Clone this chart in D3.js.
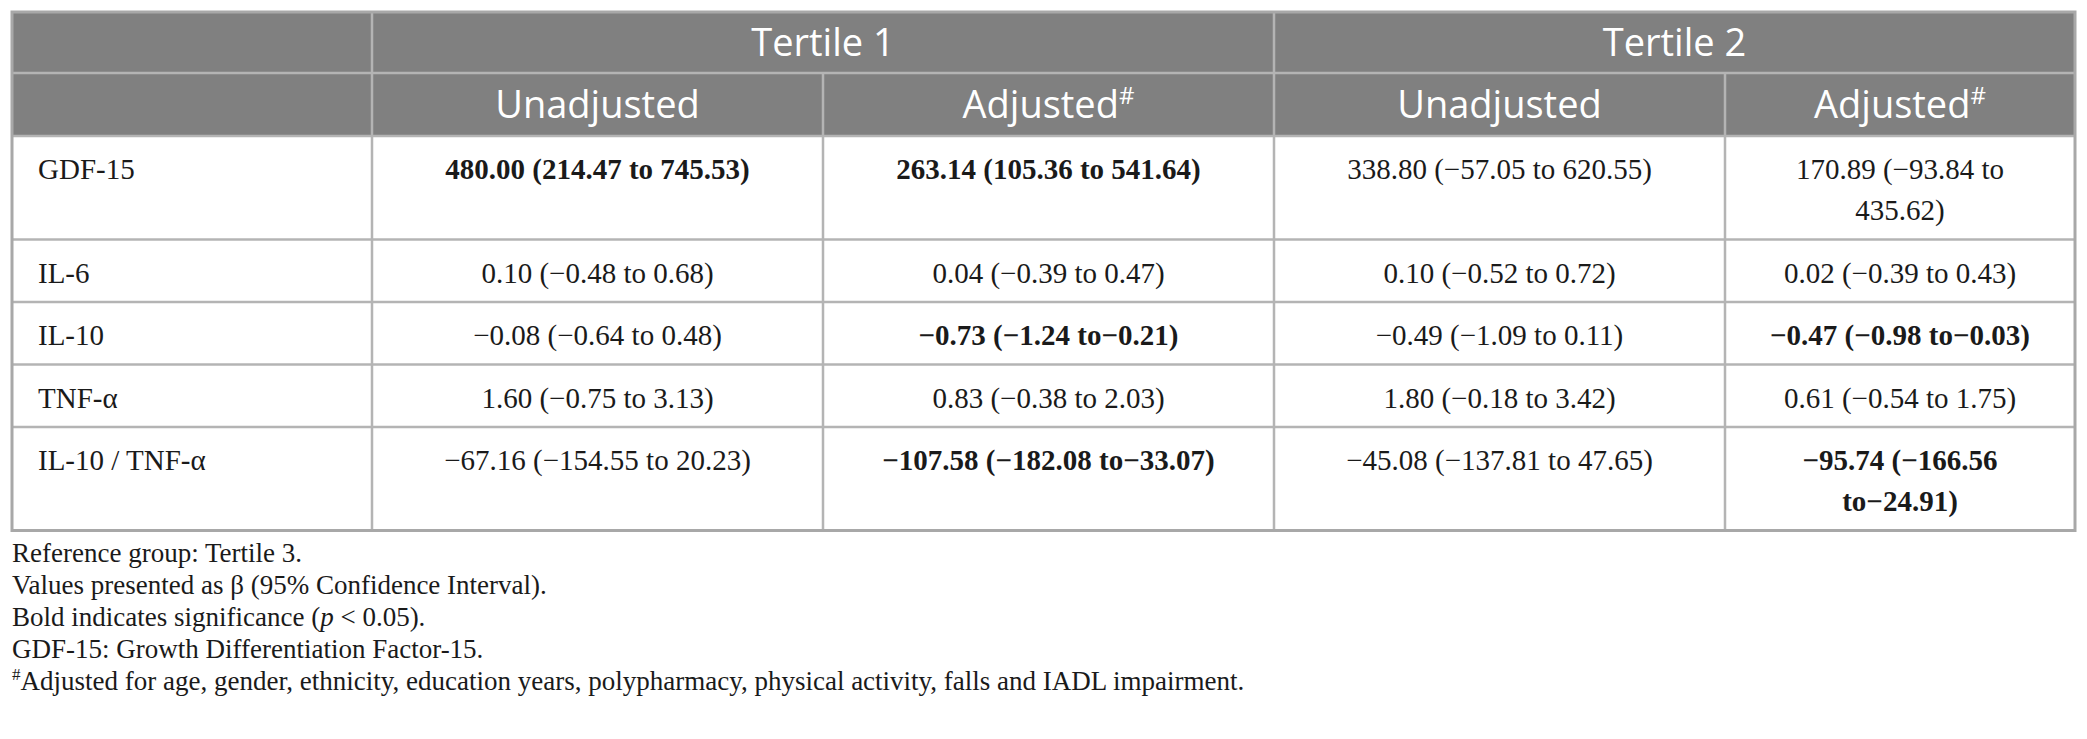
<!DOCTYPE html>
<html>
<head>
<meta charset="utf-8">
<script src="https://cdn.jsdelivr.net/npm/d3@7"></script>
<style>
  body { margin: 0; background: #fff; }
</style>
</head>
<body>
<div id="table"></div>
<script>
// table content
var rowLabels = ["GDF-15", "IL-6", "IL-10", "TNF-α", "IL-10 / TNF-α"];
var tertiles = ["Tertile 1", "Tertile 2"];
var models = ["Unadjusted", "Adjusted"];

var t1Unadjusted = ["480.00 (214.47 to 745.53)", "0.10 (−0.48 to 0.68)", "−0.08 (−0.64 to 0.48)", "1.60 (−0.75 to 3.13)", "−67.16 (−154.55 to 20.23)"];
var t1Adjusted = ["263.14 (105.36 to 541.64)", "0.04 (−0.39 to 0.47)", "−0.73 (−1.24 to−0.21)", "0.83 (−0.38 to 2.03)", "−107.58 (−182.08 to−33.07)"];
var t2Unadjusted = ["338.80 (−57.05 to 620.55)", "0.10 (−0.52 to 0.72)", "−0.49 (−1.09 to 0.11)", "1.80 (−0.18 to 3.42)", "−45.08 (−137.81 to 47.65)"];
var t2Adjusted = ["170.89 (−93.84 to 435.62)", "0.02 (−0.39 to 0.43)", "−0.47 (−0.98 to−0.03)", "0.61 (−0.54 to 1.75)", "−95.74 (−166.56 to−24.91)"];

// significant (bold) cells
var t1UnadjustedBold = [true, false, false, false, false];
var t1AdjustedBold = [true, false, true, false, true];
var t2UnadjustedBold = [false, false, false, false, false];
var t2AdjustedBold = [false, false, true, false, true];

var footnotes = [
  "Reference group: Tertile 3.",
  "Values presented as β (95% Confidence Interval).",
  "Bold indicates significance (|p| < 0.05).",
  "GDF-15: Growth Differentiation Factor-15.",
  "#Adjusted for age, gender, ethnicity, education years, polypharmacy, physical activity, falls and IADL impairment."
];

var svgWidth = 2087;
var svgHeight = 739;
var tableLeft = 12, tableTop = 12;
var colWidths = [360, 451, 451, 451, 350];
var headRowHeights = [61, 63];
var labelPad = 26;
var wrapPad = 35;
var lineH = 41;
var bodyFont = "'Liberation Serif', 'Times New Roman', serif";
var headFont = "'Open Sans', 'Noto Sans', sans-serif";
var bodySize = 29;
var gridColor = "#b4b4b4";
var headBg = "#808080";
var textColor = "#1a1a1a";

var columns = [
  { key: "t1u", values: t1Unadjusted, bold: t1UnadjustedBold },
  { key: "t1a", values: t1Adjusted, bold: t1AdjustedBold },
  { key: "t2u", values: t2Unadjusted, bold: t2UnadjustedBold },
  { key: "t2a", values: t2Adjusted, bold: t2AdjustedBold }
];

var colKeys = ["label"].concat(columns.map(d => d.key));
var colEdges = [tableLeft].concat(Array.from(d3.cumsum(colWidths), d => tableLeft + d));
var tableRight = colEdges[colEdges.length - 1];

var xScale = d3.scaleOrdinal().domain(colKeys).range(colEdges.slice(0, -1));
var wScale = d3.scaleOrdinal().domain(colKeys).range(colWidths);

var svg = d3.select("#table")
  .append("svg")
  .attr("width", svgWidth)
  .attr("height", svgHeight);

// measure text so long cells wrap like the original
var measure = svg.append("text")
  .attr("font-family", bodyFont)
  .attr("font-size", bodySize)
  .attr("visibility", "hidden");

function wrap(str, bold, maxW) {
  measure.attr("font-weight", bold ? "bold" : "normal");
  var words = str.split(" ");
  var lines = [];
  var cur = words[0];
  for (var i = 1; i < words.length; i++) {
    var test = cur + " " + words[i];
    measure.text(test);
    if (measure.node().getComputedTextLength() > maxW) {
      lines.push(cur);
      cur = words[i];
    } else {
      cur = test;
    }
  }
  lines.push(cur);
  return lines;
}

// build body cells
var cells = [];
var lineCounts = rowLabels.map(() => 1);
columns.forEach(function(col) {
  col.values.forEach(function(v, i) {
    var lines = wrap(v, col.bold[i], wScale(col.key) - 2 * wrapPad);
    lineCounts[i] = Math.max(lineCounts[i], lines.length);
    cells.push({ col: col.key, row: rowLabels[i], lines: lines, bold: col.bold[i] });
  });
});
measure.remove();

var bodyTop = tableTop + d3.sum(headRowHeights);
var rowHeights = lineCounts.map(n => 21.5 + lineH * n);
var rowTops = [bodyTop].concat(Array.from(d3.cumsum(rowHeights), d => bodyTop + d));
var tableBottom = rowTops[rowTops.length - 1];

var yScale = d3.scaleOrdinal().domain(rowLabels).range(rowTops.slice(0, -1));

// header background
svg.append("rect")
  .attr("x", tableLeft)
  .attr("y", tableTop)
  .attr("width", tableRight - tableLeft)
  .attr("height", d3.sum(headRowHeights))
  .attr("fill", headBg);

// header texts
var head = svg.append("g")
  .attr("font-family", headFont)
  .attr("font-size", 38)
  .attr("fill", "#fff")
  .attr("text-anchor", "middle");

tertiles.forEach(function(t, i) {
  var x0 = xScale(columns[i * 2].key);
  var x1 = xScale(columns[i * 2 + 1].key) + wScale(columns[i * 2 + 1].key);
  head.append("text")
    .attr("x", (x0 + x1) / 2)
    .attr("y", tableTop + 44)
    .text(t);
});

columns.forEach(function(col, i) {
  var t = head.append("text")
    .attr("x", xScale(col.key) + wScale(col.key) / 2)
    .attr("y", tableTop + headRowHeights[0] + 45)
    .text(models[i % 2]);
  if (i % 2 === 1) {
    t.append("tspan")
      .attr("font-size", 24)
      .attr("dy", -14)
      .text("#");
  }
});

// grid lines
var grid = svg.append("g")
  .attr("stroke", gridColor)
  .attr("stroke-width", 2.5)
  .attr("fill", "none");

// horizontal lines
grid.append("line")
  .attr("x1", tableLeft).attr("x2", tableRight)
  .attr("y1", tableTop + headRowHeights[0]).attr("y2", tableTop + headRowHeights[0]);
grid.selectAll("line.row")
  .data(rowTops.slice(0, -1))
  .enter()
  .append("line")
  .attr("class", "row")
  .attr("x1", tableLeft).attr("x2", tableRight)
  .attr("y1", d => d).attr("y2", d => d);

// vertical lines
colEdges.slice(1, -1).forEach(function(x, i) {
  // divider inside a tertile starts below first header row
  var y0 = (i === 1 || i === 3) ? tableTop + headRowHeights[0] : tableTop;
  grid.append("line")
    .attr("x1", x).attr("x2", x)
    .attr("y1", y0).attr("y2", tableBottom);
});

// outer border
grid.append("rect")
  .attr("x", tableLeft)
  .attr("y", tableTop)
  .attr("width", tableRight - tableLeft)
  .attr("height", tableBottom - tableTop)
  .attr("stroke", "#a8a8a8")
  .attr("stroke-width", 3);

// row labels
var body = svg.append("g")
  .attr("font-family", bodyFont)
  .attr("font-size", bodySize)
  .attr("fill", textColor);

body.selectAll("text.label")
  .data(rowLabels)
  .enter()
  .append("text")
  .attr("class", "label")
  .attr("x", d => xScale("label") + labelPad)
  .attr("y", d => yScale(d) + 43)
  .text(d => d);

// value cells
var cellText = body.selectAll("text.cell")
  .data(cells)
  .enter()
  .append("text")
  .attr("class", "cell")
  .attr("text-anchor", "middle")
  .attr("font-weight", d => d.bold ? "bold" : "normal")
  .attr("x", d => xScale(d.col) + wScale(d.col) / 2)
  .attr("y", d => yScale(d.row) + 43);

cellText.each(function(d) {
  var el = d3.select(this);
  var x = xScale(d.col) + wScale(d.col) / 2;
  d.lines.forEach(function(line, j) {
    el.append("tspan")
      .attr("x", x)
      .attr("dy", j === 0 ? 0 : lineH)
      .text(line);
  });
});

// footnotes
var notes = svg.append("g")
  .attr("font-family", bodyFont)
  .attr("font-size", 27)
  .attr("fill", textColor);

footnotes.forEach(function(f, i) {
  var t = notes.append("text")
    .attr("x", tableLeft)
    .attr("y", tableBottom + 31 + i * 32);
  if (f.indexOf("|p|") >= 0) {
    var parts = f.split("|p|");
    t.append("tspan").text(parts[0]);
    t.append("tspan").attr("font-style", "italic").text("p");
    t.append("tspan").text(parts[1]);
  } else if (f.charAt(0) === "#") {
    t.append("tspan").attr("font-size", 17).attr("dy", -10).text("#");
    t.append("tspan").attr("dy", 10).text(f.slice(1));
  } else {
    t.text(f);
  }
});
</script>
</body>
</html>
